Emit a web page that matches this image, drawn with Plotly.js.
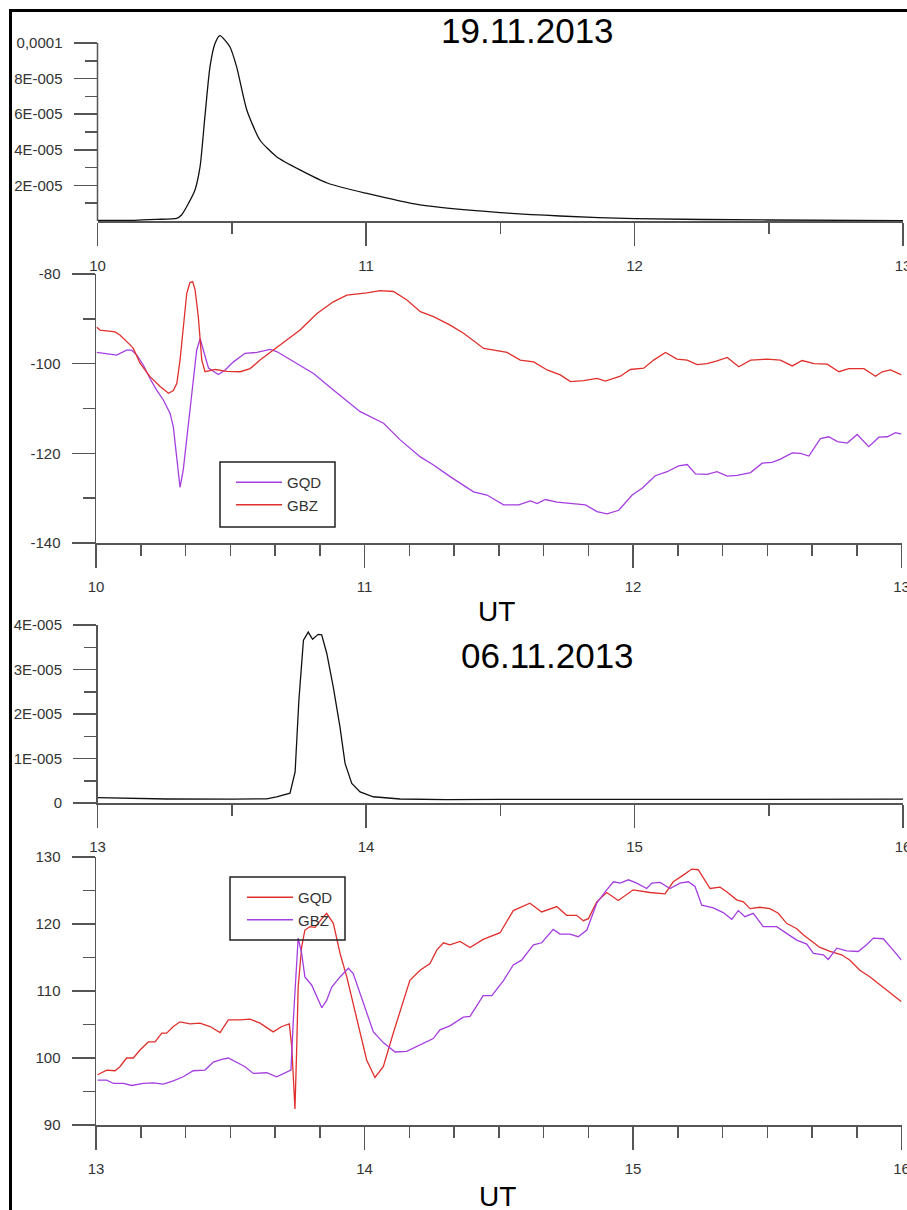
<!DOCTYPE html>
<html><head><meta charset="utf-8">
<script src="https://cdn.plot.ly/plotly-3.0.1.min.js"></script>
<style>body{margin:0;padding:0;background:#fff}#chart{width:907px;height:1210px}</style>
</head><body><div id="chart"></div>
<script>
// ---------- DATA ----------
// Panel 1: X-ray flux, 19.11.2013
const flux1Time = [10.0,10.138,10.22,10.295,10.313,10.332,10.363,10.382,10.400,10.419,10.438,10.456,10.493,10.518,10.556,10.605,10.667,10.754,10.858,11.0,11.201,11.5,11.722,12.0,12.5,13.0];
const flux1Val  = [0.3e-6,0.4e-6,0.9e-6,1.5e-6,3.4e-6,8.0e-6,17.4e-6,30.5e-6,58.6e-6,86.7e-6,99.8e-6,104.1e-6,97.9e-6,86.7e-6,62.4e-6,45.5e-6,36.1e-6,28.7e-6,21.2e-6,15.6e-6,9.0e-6,4.7e-6,2.8e-6,1.3e-6,0.56e-6,0.2e-6];

// Panel 2: 19.11.2013, GQD (purple) and GBZ (red)
const p2GqdTime = [10.003,10.040,10.077,10.114,10.133,10.152,10.176,10.201,10.226,10.251,10.276,10.288,10.301,10.313,10.325,10.338,10.357,10.375,10.388,10.400,10.419,10.456,10.481,10.512,10.555,10.599,10.649,10.673,10.735,10.810,10.884,10.984,11.071,11.133,11.208,11.257,11.319,11.357,11.406,11.456,11.518,11.574,11.618,11.643,11.673,11.717,11.779,11.823,11.866,11.903,11.947,11.965,11.997,12.034,12.083,12.127,12.170,12.202,12.233,12.276,12.313,12.351,12.388,12.438,12.481,12.518,12.549,12.593,12.624,12.655,12.698,12.729,12.761,12.798,12.835,12.878,12.916,12.947,12.978,13.0];
const p2GqdVal  = [-97.5,-97.8,-98.1,-97.0,-97.0,-98.1,-100.3,-103.3,-105.9,-108.1,-111.1,-114.1,-120.8,-127.6,-123.7,-116.3,-106.6,-97.0,-94.4,-97.0,-101.0,-102.4,-101.4,-99.6,-97.7,-97.5,-96.8,-97.3,-99.6,-102.2,-105.9,-110.7,-113.3,-117.0,-120.8,-122.6,-125.2,-126.7,-128.6,-129.3,-131.5,-131.5,-130.6,-131.2,-130.3,-130.9,-131.2,-131.5,-133.0,-133.5,-132.7,-131.5,-129.3,-127.8,-125.0,-124.1,-122.8,-122.5,-124.6,-124.7,-124.1,-125.1,-124.9,-124.3,-122.2,-122.0,-121.3,-119.9,-120.0,-120.6,-116.7,-116.3,-117.4,-117.7,-115.8,-118.5,-116.4,-116.3,-115.4,-115.7];
const p2GbzTime = [10.003,10.015,10.071,10.089,10.127,10.139,10.164,10.201,10.239,10.270,10.288,10.301,10.313,10.325,10.338,10.350,10.360,10.369,10.381,10.394,10.406,10.444,10.487,10.537,10.574,10.611,10.661,10.711,10.760,10.823,10.884,10.934,11.009,11.058,11.108,11.158,11.208,11.257,11.319,11.369,11.444,11.531,11.580,11.630,11.680,11.729,11.767,11.816,11.866,11.897,11.953,11.990,12.040,12.077,12.121,12.164,12.202,12.239,12.276,12.313,12.351,12.394,12.438,12.500,12.549,12.593,12.630,12.674,12.723,12.767,12.804,12.860,12.903,12.928,12.959,13.0];
const p2GbzVal  = [-91.9,-92.5,-92.9,-93.6,-95.8,-96.6,-99.9,-102.9,-105.1,-106.6,-106.0,-104.4,-99.2,-91.8,-84.3,-81.9,-81.7,-83.5,-89.5,-99.2,-101.8,-101.3,-101.7,-101.8,-101.1,-99.2,-97.0,-94.7,-92.5,-88.8,-86.2,-84.7,-84.2,-83.7,-83.9,-85.8,-88.4,-89.5,-91.4,-93.2,-96.6,-97.5,-99.2,-99.6,-101.4,-102.5,-104.0,-103.8,-103.3,-103.9,-102.8,-101.3,-101.0,-99.2,-97.5,-99.0,-99.2,-100.2,-100.0,-99.4,-98.6,-100.7,-99.2,-99.0,-99.2,-100.5,-99.3,-100.0,-100.1,-101.8,-101.1,-101.1,-102.8,-101.8,-101.4,-102.5];

// Panel 3: X-ray flux, 06.11.2013
const flux3Time = [13.0,13.258,13.506,13.630,13.667,13.717,13.736,13.750,13.767,13.785,13.801,13.822,13.835,13.854,13.878,13.903,13.922,13.947,13.978,14.027,14.127,14.3,14.5,15.0,15.5,16.0];
const flux3Val  = [1.19e-6,0.9e-6,0.87e-6,0.94e-6,1.4e-6,2.2e-6,7.0e-6,23.1e-6,36.6e-6,38.4e-6,36.8e-6,37.9e-6,37.8e-6,33.6e-6,26.1e-6,17.1e-6,8.9e-6,4.4e-6,2.5e-6,1.4e-6,0.9e-6,0.75e-6,0.8e-6,0.85e-6,0.85e-6,0.85e-6];

// Panel 4: 06.11.2013, GQD (red) and GBZ (purple)
const p4GqdTime = [13.006,13.040,13.071,13.089,13.114,13.139,13.164,13.195,13.220,13.245,13.263,13.288,13.313,13.350,13.387,13.425,13.462,13.493,13.536,13.574,13.611,13.660,13.692,13.720,13.729,13.735,13.741,13.747,13.753,13.766,13.778,13.797,13.816,13.841,13.859,13.884,13.909,13.934,13.958,13.983,14.008,14.039,14.070,14.107,14.145,14.169,14.207,14.244,14.269,14.294,14.318,14.356,14.393,14.442,14.505,14.554,14.616,14.660,14.716,14.753,14.790,14.815,14.834,14.865,14.902,14.945,15.001,15.063,15.119,15.150,15.187,15.219,15.243,15.287,15.324,15.349,15.386,15.411,15.436,15.473,15.510,15.541,15.572,15.610,15.634,15.666,15.696,15.734,15.777,15.808,15.845,15.883,15.920,15.957,16.0];
const p4GqdVal  = [97.5,98.2,98.1,98.7,100.0,100.0,101.2,102.4,102.4,103.7,103.7,104.7,105.4,105.1,105.2,104.7,103.8,105.7,105.7,105.8,105.2,103.9,104.7,105.1,101.7,95.7,92.4,100.7,110.6,116.6,119.1,119.6,119.5,120.8,121.6,120.1,115.6,112.1,108.2,104.2,99.7,97.1,98.7,103.7,108.7,111.6,113.1,114.1,116.1,117.2,116.9,117.4,116.5,117.7,118.7,122.0,123.1,121.8,122.6,121.3,121.3,120.5,120.8,123.3,124.7,123.5,125.1,124.7,124.5,126.3,127.3,128.2,128.1,125.3,125.5,124.8,123.6,123.3,122.3,122.5,122.3,121.6,120.1,119.3,118.4,117.4,116.5,115.9,115.4,114.6,113.1,112.1,110.9,109.7,108.4];
const p4GbzTime = [13.006,13.040,13.065,13.102,13.133,13.176,13.213,13.251,13.288,13.325,13.362,13.406,13.437,13.468,13.493,13.524,13.555,13.586,13.636,13.673,13.698,13.726,13.735,13.745,13.753,13.766,13.778,13.803,13.822,13.841,13.859,13.878,13.909,13.940,13.958,13.983,14.008,14.033,14.070,14.114,14.157,14.207,14.256,14.281,14.318,14.368,14.393,14.442,14.474,14.517,14.554,14.585,14.629,14.660,14.703,14.728,14.765,14.796,14.828,14.865,14.896,14.927,14.952,14.983,15.014,15.051,15.070,15.101,15.138,15.175,15.206,15.231,15.256,15.299,15.336,15.368,15.392,15.417,15.448,15.485,15.535,15.572,15.610,15.647,15.672,15.709,15.727,15.759,15.796,15.839,15.870,15.895,15.932,15.969,16.0];
const p4GbzVal  = [96.7,96.7,96.2,96.2,95.9,96.2,96.3,96.1,96.6,97.2,98.1,98.2,99.4,99.8,100.0,99.3,98.7,97.7,97.8,97.2,97.7,98.2,105.7,113.1,117.9,115.6,112.1,110.9,109.1,107.5,108.6,110.6,112.1,113.4,112.6,109.7,106.7,103.9,102.3,100.9,101.0,101.9,102.9,104.2,104.8,106.1,106.2,109.3,109.3,111.5,113.9,114.6,116.9,117.2,119.2,118.5,118.5,118.1,119.1,123.1,124.8,126.3,126.1,126.6,126.1,125.3,126.1,126.2,125.3,126.1,126.3,125.6,122.8,122.4,121.7,120.7,122.0,121.1,121.6,119.6,119.6,118.6,117.6,117.0,115.6,115.4,114.7,116.4,116.0,115.9,116.9,117.9,117.8,116.1,114.6];

// Tick labels
const flux1TickVals = [2e-5,4e-5,6e-5,8e-5,1e-4];
const flux1TickText = ['2E-005','4E-005','6E-005','8E-005','0,0001'];
const flux3TickVals = [0,1e-5,2e-5,3e-5,4e-5];
const flux3TickText = ['0','1E-005','2E-005','3E-005','4E-005'];
const seriesNames = ['GQD','GBZ'];
const titles = ['19.11.2013','06.11.2013'];
const xLabel = 'UT';

// ---------- STYLE / LAYOUT ----------
const W = 907, H = 1210;
const FONT = 'Liberation Sans, Arial, sans-serif';
const AX = '#555555';
const RED = '#e0302c';
const PURPLE = '#a53ee0';
const px = v => v / W;
const py = v => 1 - v / H;

function xAxis(d0, d1, range, anchor, minorD, standoff) {
  return {
    domain: [px(d0), px(d1)], range: range, anchor: anchor,
    showline: true, linecolor: AX, linewidth: 1.5, mirror: false,
    ticks: 'outside', ticklen: 23, tickwidth: 1.5, tickcolor: AX,
    tickmode: 'linear', tick0: 0, dtick: 1,
    showgrid: false, zeroline: false,
    tickfont: {family: FONT, size: 15, color: '#333'},
    ticklabelstandoff: standoff, ticklabeloverflow: 'allow',
    minor: {ticks: 'outside', ticklen: 11, tickwidth: 1.5, tickcolor: AX, tick0: 0, dtick: minorD, showgrid: false},
    fixedrange: true
  };
}
function yAxis(top, bot, range, anchor, extra) {
  return Object.assign({
    domain: [py(bot), py(top)], range: range, anchor: anchor,
    showline: true, linecolor: AX, linewidth: 1.5,
    ticks: 'outside', ticklen: 23, tickwidth: 1.5, tickcolor: AX,
    showgrid: false, zeroline: false,
    tickfont: {family: FONT, size: 15, color: '#333'},
    ticklabelstandoff: 8, ticklabeloverflow: 'allow',
    fixedrange: true
  }, extra);
}

const traces = [
  {x: flux1Time, y: flux1Val, xaxis: 'x', yaxis: 'y', mode: 'lines', line: {color: '#111', width: 1.3, shape: 'spline', smoothing: 0.6}, showlegend: false, hoverinfo: 'skip'},
  {x: p2GqdTime, y: p2GqdVal, xaxis: 'x2', yaxis: 'y2', mode: 'lines', name: seriesNames[0], line: {color: PURPLE, width: 1.3}, legend: 'legend'},
  {x: p2GbzTime, y: p2GbzVal, xaxis: 'x2', yaxis: 'y2', mode: 'lines', name: seriesNames[1], line: {color: RED, width: 1.3}, legend: 'legend'},
  {x: flux3Time, y: flux3Val, xaxis: 'x3', yaxis: 'y3', mode: 'lines', line: {color: '#111', width: 1.3}, showlegend: false, hoverinfo: 'skip'},
  {x: p4GqdTime, y: p4GqdVal, xaxis: 'x4', yaxis: 'y4', mode: 'lines', name: seriesNames[0], line: {color: RED, width: 1.3}, legend: 'legend2'},
  {x: p4GbzTime, y: p4GbzVal, xaxis: 'x4', yaxis: 'y4', mode: 'lines', name: seriesNames[1], line: {color: PURPLE, width: 1.3}, legend: 'legend2'}
];

const legendStyle = {
  xanchor: 'left', yanchor: 'top', bgcolor: 'rgba(0,0,0,0)', borderwidth: 0,
  font: {family: FONT, size: 15, color: '#333'}, tracegroupgap: 0, itemwidth: 46
};

const layout = {
  width: W, height: H, margin: {l: 0, r: 0, t: 0, b: 0},
  paper_bgcolor: '#fff', plot_bgcolor: 'rgba(0,0,0,0)',
  showlegend: true,
  legend: Object.assign({x: px(231), y: py(466)}, legendStyle),
  legend2: Object.assign({x: px(242), y: py(881)}, legendStyle),
  xaxis:  xAxis(97.5, 903, [10, 13], 'y', 0.5, 7),
  yaxis:  yAxis(32.3, 221, [0, 1.06e-4], 'x', {showline: false, tickmode: 'array', tickvals: flux1TickVals, ticktext: flux1TickText,
           minor: {ticks: 'outside', ticklen: 12, tickwidth: 1.5, tickcolor: AX, tickmode: 'array', tickvals: [1e-5,3e-5,5e-5,7e-5,9e-5]}}),
  xaxis2: xAxis(96, 901.5, [10, 13], 'y2', 1/6, 6),
  yaxis2: yAxis(274, 543, [-140, -80], 'x2', {tickmode: 'array', tickvals: [-140,-120,-100,-80], ticktext: ['-140','-120','-100','-80'],
           minor: {ticks: 'outside', ticklen: 12, tickwidth: 1.5, tickcolor: AX, tickmode: 'array', tickvals: [-130,-110,-90]}}),
  xaxis3: xAxis(97.5, 903, [13, 16], 'y3', 0.5, 6),
  yaxis3: yAxis(625, 803, [0, 4e-5], 'x3', {tickmode: 'array', tickvals: flux3TickVals, ticktext: flux3TickText,
           minor: {ticks: 'outside', ticklen: 12, tickwidth: 1.5, tickcolor: AX, tickmode: 'array', tickvals: [5e-6,15e-6,25e-6,35e-6]}}),
  xaxis4: xAxis(96, 901.5, [13, 16], 'y4', 1/6, 6),
  yaxis4: yAxis(857, 1125, [90, 130], 'x4', {tickmode: 'array', tickvals: [90,100,110,120,130], ticktext: ['90','100','110','120','130'],
           minor: {ticks: 'outside', ticklen: 12, tickwidth: 1.5, tickcolor: AX, tickmode: 'array', tickvals: [95,105,115,125]}}),
  annotations: [
    {text: titles[0], xref: 'paper', yref: 'paper', x: px(527), y: py(30), xanchor: 'center', yanchor: 'middle', showarrow: false, font: {family: FONT, size: 35, color: '#000'}},
    {text: titles[1], xref: 'paper', yref: 'paper', x: px(547), y: py(655), xanchor: 'center', yanchor: 'middle', showarrow: false, font: {family: FONT, size: 35, color: '#000'}},
    {text: xLabel, xref: 'paper', yref: 'paper', x: px(496), y: py(611), xanchor: 'center', yanchor: 'middle', showarrow: false, font: {family: FONT, size: 28, color: '#000'}},
    {text: xLabel, xref: 'paper', yref: 'paper', x: px(498), y: py(1196), xanchor: 'center', yanchor: 'middle', showarrow: false, font: {family: FONT, size: 28, color: '#000'}}
  ],
  shapes: [
    // page frame
    {type: 'line', xref: 'paper', yref: 'paper', x0: px(10.5), x1: px(10.5), y0: py(9), y1: 0, line: {color: '#000', width: 3}, layer: 'above'},
    {type: 'line', xref: 'paper', yref: 'paper', x0: px(9), x1: 1, y0: py(10.5), y1: py(10.5), line: {color: '#000', width: 3}, layer: 'above'},
    // panel 1 y-axis line (0 .. 0.0001)
    {type: 'line', xref: 'paper', yref: 'y', x0: px(97.5), x1: px(97.5), y0: 0, y1: 1e-4, line: {color: AX, width: 1.5}, layer: 'above'},
    // legend boxes
    {type: 'rect', xref: 'paper', yref: 'paper', x0: px(220), x1: px(335), y0: py(462), y1: py(527), line: {color: '#222', width: 1.5}, fillcolor: 'rgba(0,0,0,0)', layer: 'above'},
    {type: 'rect', xref: 'paper', yref: 'paper', x0: px(230), x1: px(345), y0: py(877), y1: py(940), line: {color: '#222', width: 1.5}, fillcolor: 'rgba(0,0,0,0)', layer: 'above'}
  ]
};

Plotly.newPlot('chart', traces, layout, {displayModeBar: false, staticPlot: true});
</script>
</body></html>
